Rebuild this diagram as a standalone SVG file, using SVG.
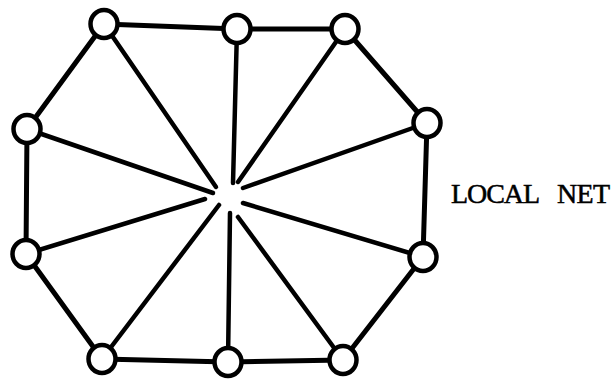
<svg xmlns="http://www.w3.org/2000/svg" width="615" height="384" viewBox="0 0 615 384">
<style>
.e{stroke:#000;stroke-width:5;stroke-linecap:round;fill:none}
.s{stroke:#000;stroke-width:4.5;stroke-linecap:round;fill:none}
.n{fill:#fff;stroke:#000;stroke-width:4.5}
.t{font-family:"Liberation Serif","Times New Roman",serif;font-size:28px;fill:#000;stroke:#000;stroke-width:0.5}
</style>
<rect width="615" height="384" fill="#fff"/>
<g id="connectors">
<line class="e" x1="104" y1="24" x2="237" y2="29"/>
<line class="e" x1="237" y1="29" x2="345" y2="29"/>
<line class="e" x1="345" y1="29" x2="427" y2="123"/>
<line class="e" x1="427" y1="123" x2="423" y2="257"/>
<line class="e" x1="423" y1="257" x2="343" y2="360"/>
<line class="e" x1="343" y1="360" x2="228" y2="362"/>
<line class="e" x1="228" y1="362" x2="102" y2="359"/>
<line class="e" x1="102" y1="359" x2="26" y2="254"/>
<line class="e" x1="26" y1="254" x2="27" y2="129"/>
<line class="e" x1="27" y1="129" x2="104" y2="24"/>
<line class="s" x1="104" y1="24" x2="216" y2="187"/>
<line class="s" x1="237" y1="29" x2="233" y2="183"/>
<line class="s" x1="345" y1="29" x2="238" y2="182"/>
<line class="s" x1="427" y1="123" x2="243" y2="188"/>
<line class="s" x1="423" y1="257" x2="243" y2="203"/>
<line class="s" x1="343" y1="360" x2="238" y2="217"/>
<line class="s" x1="228" y1="362" x2="230" y2="213"/>
<line class="s" x1="102" y1="359" x2="219" y2="205"/>
<line class="s" x1="26" y1="254" x2="205" y2="199"/>
<line class="s" x1="27" y1="129" x2="213" y2="193"/>
</g>
<g id="n1"><ellipse class="n" cx="104" cy="24" rx="13.5" ry="14"/></g>
<g id="n2"><ellipse class="n" cx="237" cy="29" rx="13.5" ry="14"/></g>
<g id="n3"><ellipse class="n" cx="345" cy="29" rx="13.5" ry="14"/></g>
<g id="n4"><ellipse class="n" cx="427" cy="123" rx="13.5" ry="14"/></g>
<g id="n5"><ellipse class="n" cx="423" cy="257" rx="13.5" ry="14"/></g>
<g id="n6"><ellipse class="n" cx="343" cy="360" rx="13.5" ry="14"/></g>
<g id="n7"><ellipse class="n" cx="228" cy="362" rx="13.5" ry="14"/></g>
<g id="n8"><ellipse class="n" cx="102" cy="359" rx="13.5" ry="14"/></g>
<g id="n9"><ellipse class="n" cx="26" cy="254" rx="13.5" ry="14"/></g>
<g id="n10"><ellipse class="n" cx="27" cy="129" rx="13.5" ry="14"/></g>
<g id="label"><text class="t" y="203"><tspan x="451" textLength="88" lengthAdjust="spacing">LOCAL</tspan> <tspan x="557" textLength="53" lengthAdjust="spacing">NET</tspan></text></g>
</svg>
